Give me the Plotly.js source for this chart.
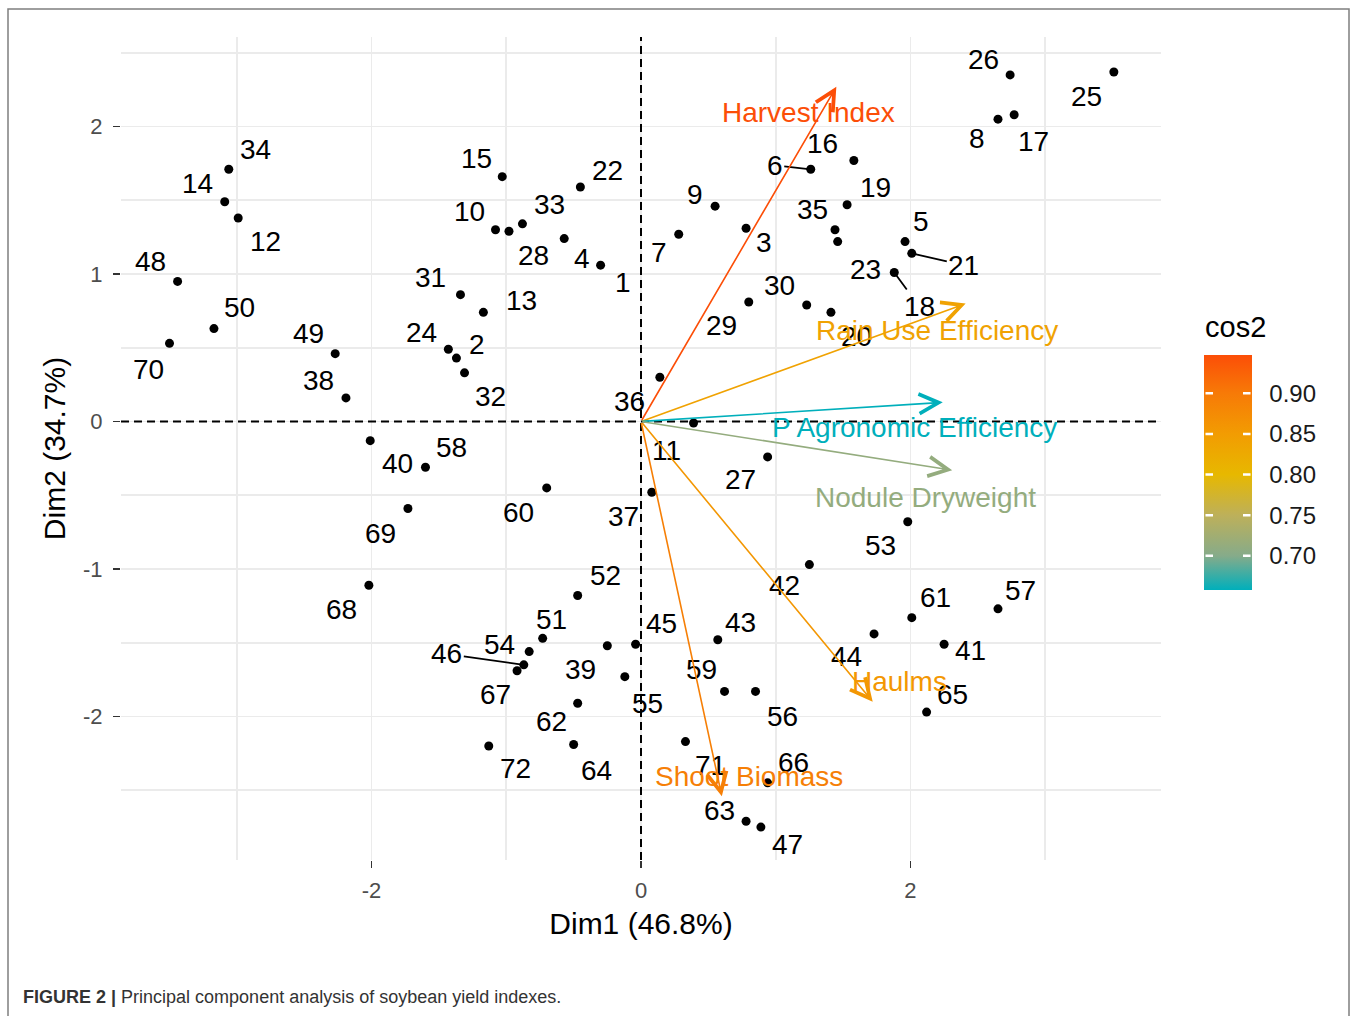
<!DOCTYPE html>
<html>
<head>
<meta charset="utf-8">
<script src="https://cdn.plot.ly/plotly-3.0.1.min.js"></script>
<style>
html,body{margin:0;padding:0;background:#fff;}
#chart{width:1357px;height:1016px;}
</style>
</head>
<body>
<div id="chart"></div>
<script>
// ---------- DATA ----------
const ids = [1,2,3,4,5,6,7,8,9,10,11,12,13,14,15,16,17,18,19,20,21,22,23,24,25,26,27,28,29,30,31,32,33,34,35,36,
             37,38,39,40,41,42,43,44,45,46,47,48,49,50,51,52,53,54,55,56,57,58,59,60,61,62,63,64,65,66,67,68,69,70,71,72];
const dim1 = [-0.30,-1.37,0.78,-0.57,1.96,1.26,0.28,2.65,0.55,-1.08,0.39,-2.99,-1.17,-3.09,-1.03,1.58,2.77,1.88,1.53,1.41,
              2.01,-0.45,1.46,-1.43,3.51,2.74,0.94,-0.98,0.80,1.23,-1.34,-1.31,-0.88,-3.06,1.44,0.14,
              0.08,-2.19,-0.25,-2.01,2.25,1.25,0.57,1.73,-0.04,-0.87,0.89,-3.44,-2.27,-3.17,-0.73,-0.47,1.98,-0.83,
              -0.12,0.85,2.65,-1.60,0.62,-0.70,2.01,-0.47,0.78,-0.50,2.12,0.94,-0.92,-2.02,-1.73,-3.50,0.33,-1.13];
const dim2 = [1.06,0.43,1.31,1.24,1.22,1.71,1.27,2.05,1.46,1.30,-0.01,1.38,0.74,1.49,1.66,1.77,2.08,1.01,1.47,0.74,
              1.14,1.59,1.22,0.49,2.37,2.35,-0.24,1.29,0.81,0.79,0.86,0.33,1.34,1.71,1.30,0.30,
              -0.48,0.16,-1.52,-0.13,-1.51,-0.97,-1.48,-1.44,-1.51,-1.65,-2.75,0.95,0.46,0.63,-1.47,-1.18,-0.68,-1.56,
              -1.73,-1.83,-1.27,-0.31,-1.83,-0.45,-1.33,-1.91,-2.71,-2.19,-1.97,-2.45,-1.69,-1.11,-0.59,0.53,-2.17,-2.20];

const varNames = ['Harvest Index','Rain Use Efficiency','P Agronomic Efficiency','Nodule Dryweight','Haulms','Shoot Biomass'];
const varDim1  = [1.45, 2.41, 2.24, 2.31, 1.72, 0.60];
const varDim2  = [2.27, 0.80, 0.13, -0.33, -1.90, -2.54];
const varCos2  = [0.947, 0.839, 0.658, 0.713, 0.857, 0.892];

const xTickVals = [-2, 0, 2];
const yTickVals = [-2, -1, 0, 1, 2];
const cos2TickVals = [0.70, 0.75, 0.80, 0.85, 0.90];
const xTitle = 'Dim1 (46.8%)';
const yTitle = 'Dim2 (34.7%)';
const legendTitle = 'cos2';
const captionBold = 'FIGURE 2 |';
const captionText = 'Principal component analysis of soybean yield indexes.';

// ---------- STYLE / LABEL PLACEMENT (pixel offsets of repelled labels) ----------
const labelShift = {
 1:[22,17],2:[21,-14],3:[18,14],4:[18,20],5:[16,-20],6:[-36,-4],7:[-20,18],8:[-21,19],9:[-20,-12],10:[-26,-18],
 11:[-27,28],12:[27,24],13:[38,-12],14:[-27,-18],15:[-26,-18],16:[-31,-17],17:[19,27],18:[25,34],19:[28,-17],20:[26,24],
 21:[52,12],22:[27,-17],23:[28,28],24:[-27,-17],25:[-27,25],26:[-27,-15],27:[-27,23],28:[25,24],29:[-27,23],30:[-27,-19],
 31:[-30,-17],32:[26,24],33:[27,-19],34:[27,-20],35:[-22,-20],36:[-30,24],37:[-28,24],38:[-27,-17],39:[-27,24],40:[27,23],
 41:[26,6],42:[-25,21],43:[23,-17],44:[-28,23],45:[26,-21],46:[-77,-11],47:[27,17],48:[-27,-20],49:[-27,-20],50:[26,-21],
 51:[9,-19],52:[28,-20],53:[-27,24],54:[-30,-7],55:[23,27],56:[27,25],57:[23,-18],58:[26,-20],59:[-23,-22],60:[-28,25],
 61:[24,-20],62:[-26,18],63:[-27,-11],64:[23,26],65:[26,-18],66:[26,-20],67:[-22,24],68:[-27,24],69:[-27,25],70:[-21,26],
 71:[25,24],72:[27,23]
};
const segmentIds = [6, 18, 21, 46];
const varLabelShift = [[-28,26],[-29,27],[-28,25],[-27,27],[27,-20],[27,-20]];

const FONT = 'Liberation Sans, Arial, Helvetica, sans-serif';
const LABEL_SIZE = 28;

// colour gradient anchors (cos2 value -> colour), mimicking the reference legend
const gradAnchors = [[0.658,'#00AFBB'],[0.70,'#86AB8A'],[0.75,'#BDB05A'],[0.80,'#E7B800'],[0.85,'#F29C02'],[0.90,'#F77A07'],[0.947,'#FC4E07']];

// ---------- GEOMETRY ----------
const W = 1357, H = 1016;
const M = {l:121, r:196, t:37, b:156};
const PW = W - M.l - M.r, PH = H - M.t - M.b;
const px2x = px => (px - M.l) / PW;
const px2y = py => (H - M.b - py) / PH;
const xRange = [-3.86, 3.86];
const yRange = [-2.973, 2.607];

const cmin = Math.min(...varCos2), cmax = Math.max(...varCos2);
const colorscale = gradAnchors.map(a => [Math.min(1, Math.max(0, (a[0]-cmin)/(cmax-cmin))), a[1]]);
colorscale[0][0] = 0; colorscale[colorscale.length-1][0] = 1;

function hex2rgb(h){ return [parseInt(h.slice(1,3),16),parseInt(h.slice(3,5),16),parseInt(h.slice(5,7),16)]; }
function colorAt(v){
  const t = (v - cmin) / (cmax - cmin);
  for (let i = 0; i < colorscale.length-1; i++) {
    const [t0,c0] = colorscale[i], [t1,c1] = colorscale[i+1];
    if (t <= t1 + 1e-9) {
      const f = t1 === t0 ? 0 : Math.max(0, Math.min(1, (t - t0)/(t1 - t0)));
      const a = hex2rgb(c0), b = hex2rgb(c1);
      return 'rgb(' + a.map((x,k)=>Math.round(x + (b[k]-x)*f)).join(',') + ')';
    }
  }
  return colorscale[colorscale.length-1][1];
}

// ---------- TRACES ----------
const dashStyle = {color:'#000', width:2, dash:'8px,5px'};
const vLine = {type:'scatter', mode:'lines', x:[0,0], y:yRange, line:dashStyle, hoverinfo:'skip'};
const hLine = {type:'scatter', mode:'lines', x:xRange, y:[0,0], line:dashStyle, hoverinfo:'skip'};
const pointsTrace = {
  type:'scatter', mode:'markers', x:dim1, y:dim2, text:ids.map(String),
  marker:{color:'#000', size:9}, hoverinfo:'text', cliponaxis:false
};
const cbTop = 355, cbBottom = 590, cbLeft = 1204, cbThick = 48;
const scaleTrace = {
  type:'scatter', mode:'markers', x:varDim1, y:varDim2, hoverinfo:'skip',
  marker:{size:1, opacity:0, color:varCos2, cmin:cmin, cmax:cmax, colorscale:colorscale, showscale:true,
    colorbar:{
      x:px2x(cbLeft), xanchor:'left', xref:'paper',
      y:px2y(cbBottom), yanchor:'bottom', yref:'paper',
      thickness:cbThick, thicknessmode:'pixels', len:cbBottom-cbTop, lenmode:'pixels',
      xpad:0, ypad:0, outlinewidth:0,
      tickmode:'array', tickvals:cos2TickVals, ticktext:cos2TickVals.map(v=>v.toFixed(2)),
      ticks:'outside', ticklen:13, tickwidth:1, tickcolor:'rgba(0,0,0,0)',
      tickfont:{family:FONT, size:24, color:'#1a1a1a'}
    }}
};

// ---------- ANNOTATIONS ----------
const annotations = [];
ids.forEach((id, i) => {
  const [dx, dy] = labelShift[id];
  if (segmentIds.includes(id)) {
    annotations.push({x:dim1[i], y:dim2[i], xref:'x', yref:'y', text:String(id), showarrow:true,
      ax:dx, ay:dy, arrowhead:0, arrowwidth:1.8, arrowcolor:'#000', standoff:0,
      font:{family:FONT, size:LABEL_SIZE, color:'#000'}});
  } else {
    annotations.push({x:dim1[i], y:dim2[i], xref:'x', yref:'y', text:String(id), showarrow:false,
      xanchor:'center', yanchor:'middle', xshift:dx, yshift:-dy,
      font:{family:FONT, size:LABEL_SIZE, color:'#000'}});
  }
});
varNames.forEach((name, i) => {
  const col = colorAt(varCos2[i]);
  annotations.push({x:varDim1[i], y:varDim2[i], xref:'x', yref:'y', ax:0, ay:0, axref:'x', ayref:'y',
    text:'', showarrow:true, arrowhead:5, arrowsize:2.4, arrowwidth:1.6, arrowcolor:col, standoff:0});
});
varNames.forEach((name, i) => {
  const col = colorAt(varCos2[i]);
  annotations.push({x:varDim1[i], y:varDim2[i], xref:'x', yref:'y', text:name, showarrow:false,
    xanchor:'center', yanchor:'middle', xshift:varLabelShift[i][0], yshift:-varLabelShift[i][1],
    font:{family:FONT, size:LABEL_SIZE, color:col}});
});
annotations.push({xref:'paper', yref:'paper', x:px2x(1203), y:px2y(327), xanchor:'left', yanchor:'middle',
  showarrow:false, text:legendTitle, font:{family:FONT, size:29, color:'#000'}});
annotations.push({xref:'paper', yref:'paper', x:px2x(21), y:px2y(997), xanchor:'left', yanchor:'middle',
  showarrow:false, text:'<b>'+captionBold+'</b> '+captionText, font:{family:FONT, size:18, color:'#333'}});
// white tick marks on both sides of the legend bar
cos2TickVals.forEach(v => {
  const py = cbBottom - (v - cmin)/(cmax - cmin)*(cbBottom - cbTop);
  [[cbLeft+9, -9],[cbLeft+cbThick-9, 9]].forEach(([head, off]) => {
    annotations.push({xref:'paper', yref:'paper', x:px2x(head), y:px2y(py), ax:off, ay:0, text:'',
      showarrow:true, arrowhead:0, arrowwidth:2.5, arrowcolor:'#ffffff', standoff:0, startstandoff:0});
  });
});

// ---------- SHAPES ----------
const shapes = [
  {type:'rect', xref:'paper', yref:'paper', x0:px2x(8), x1:px2x(1349), y0:px2y(1030), y1:px2y(9), layer:'above',
   line:{color:'#7f7f7f', width:1.5}, fillcolor:'rgba(0,0,0,0)'}
];

// ---------- LAYOUT ----------
const gridCol = '#EBEBEB';
const layout = {
  width:W, height:H, margin:M, autosize:false,
  paper_bgcolor:'#fff', plot_bgcolor:'#fff', showlegend:false,
  font:{family:FONT, color:'#000'},
  xaxis:{
    range:xRange, tickmode:'array', tickvals:xTickVals, ticktext:xTickVals.map(String),
    ticks:'outside', ticklen:7, tickwidth:1.6, tickcolor:'#333', ticklabelstandoff:4,
    tickfont:{family:FONT, size:22, color:'#4d4d4d'},
    showgrid:true, gridcolor:gridCol, gridwidth:1.6, zeroline:false, showline:false,
    minor:{tickmode:'linear', tick0:0, dtick:1, showgrid:true, gridcolor:gridCol, gridwidth:1.6, ticks:''},
    title:{text:xTitle, font:{family:FONT, size:30, color:'#000'}, standoff:10},
    automargin:false, fixedrange:true
  },
  yaxis:{
    range:yRange, tickmode:'array', tickvals:yTickVals, ticktext:yTickVals.map(String),
    ticks:'outside', ticklen:7, tickwidth:1.6, tickcolor:'#333', ticklabelstandoff:6,
    tickfont:{family:FONT, size:22, color:'#4d4d4d'},
    showgrid:true, gridcolor:gridCol, gridwidth:1.6, zeroline:false, showline:false,
    minor:{tickmode:'linear', tick0:0, dtick:0.5, showgrid:true, gridcolor:gridCol, gridwidth:1.6, ticks:''},
    title:{text:yTitle, font:{family:FONT, size:30, color:'#000'}, standoff:8},
    automargin:false, fixedrange:true
  },
  shapes:shapes,
  annotations:annotations
};

Plotly.newPlot('chart', [vLine, hLine, pointsTrace, scaleTrace], layout, {displayModeBar:false, staticPlot:true});
</script>
</body>
</html>
